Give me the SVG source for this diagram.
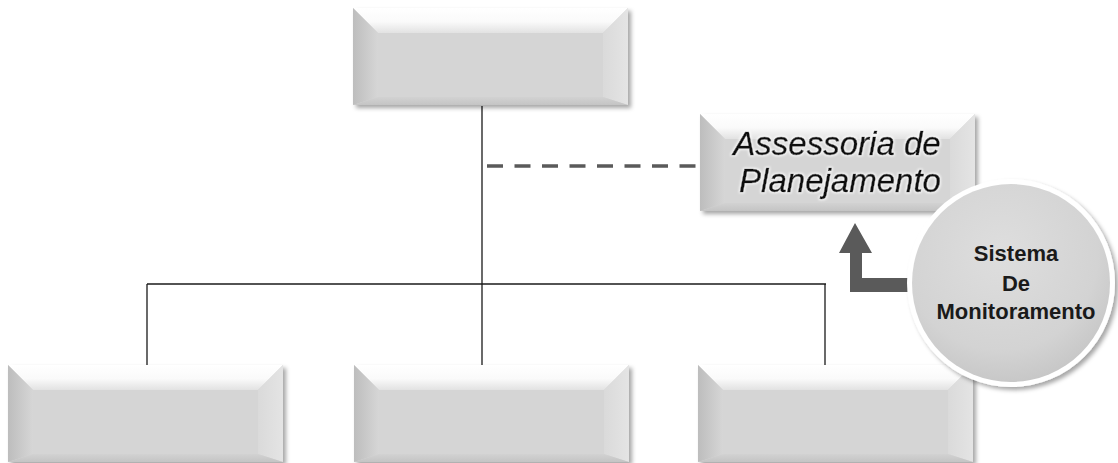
<svg xmlns="http://www.w3.org/2000/svg" xmlns:xlink="http://www.w3.org/1999/xlink" width="1118" height="463" viewBox="0 0 1118 463">
  <style>
    .line { stroke: #1a1a1a; stroke-width: 1.3; fill: none; }
    .dash { stroke: #5a5a5a; stroke-width: 3.5; stroke-dasharray: 16 11.5; fill: none; }
    .arrow { fill: #5a5a5a; }
    .title { font-family: "Liberation Sans", Arial, sans-serif; font-style: italic; font-size: 33px; fill: #0d0d0d; stroke: #0d0d0d; stroke-width: 0.5; text-anchor: middle; }
    .circ { font-family: "Liberation Sans", Arial, sans-serif; font-weight: bold; font-size: 22px; fill: #1a1a1a; text-anchor: middle; }
  </style>
  <defs>
    <filter id="shadow" x="-10%" y="-10%" width="125%" height="130%">
      <feDropShadow dx="3" dy="3" stdDeviation="2" flood-color="#000" flood-opacity="0.35"/>
    </filter>
    <filter id="glow" x="-10%" y="-20%" width="120%" height="140%">
      <feMorphology in="SourceAlpha" operator="dilate" radius="1.2" result="d"/>
      <feGaussianBlur in="d" stdDeviation="1" result="b"/>
      <feFlood flood-color="#ffffff" flood-opacity="0.8"/>
      <feComposite in2="b" operator="in" result="g"/>
      <feMerge><feMergeNode in="g"/><feMergeNode in="SourceGraphic"/></feMerge>
    </filter>
    <linearGradient id="gTop" x1="0" y1="0" x2="0" y2="1">
      <stop offset="0" stop-color="#ffffff"/>
      <stop offset="0.55" stop-color="#fafafa"/>
      <stop offset="1" stop-color="#e2e2e2"/>
    </linearGradient>
    <linearGradient id="gLeft" x1="0" y1="0" x2="1" y2="0">
      <stop offset="0" stop-color="#bdbdbd"/>
      <stop offset="1" stop-color="#d6d6d6"/>
    </linearGradient>
    <linearGradient id="gRight" x1="0" y1="0" x2="1" y2="0">
      <stop offset="0" stop-color="#dadada"/>
      <stop offset="1" stop-color="#e4e4e4"/>
    </linearGradient>
    <linearGradient id="gBottom" x1="0" y1="0" x2="0" y2="1">
      <stop offset="0" stop-color="#d2d2d2"/>
      <stop offset="1" stop-color="#c4c4c4"/>
    </linearGradient>
    <radialGradient id="gCirc" cx="0.45" cy="0.35" r="0.7">
      <stop offset="0" stop-color="#dedede"/>
      <stop offset="0.7" stop-color="#d3d3d3"/>
      <stop offset="1" stop-color="#c4c4c4"/>
    </radialGradient>
    <g id="box">
      <rect x="0" y="0" width="275" height="97" fill="#d5d5d5" filter="url(#shadow)"/>
      <polygon points="0,0 275,0 250,25 25,25" fill="url(#gTop)"/>
      <polygon points="0,0 25,25 25,89 0,97" fill="url(#gLeft)"/>
      <polygon points="275,0 275,97 250,89 250,25" fill="url(#gRight)"/>
      <polygon points="0,97 25,89 250,89 275,97" fill="url(#gBottom)"/>
      <rect x="25" y="25" width="225" height="64" fill="#d5d5d5"/>
    </g>
  </defs>

  <rect width="1118" height="463" fill="#ffffff"/>

  <g id="connectors">
    <line class="line" x1="482" y1="106" x2="482" y2="366"/>
    <line class="line" x1="147" y1="284" x2="826" y2="284"/>
    <line class="line" x1="147" y1="284" x2="147" y2="366"/>
    <line class="line" x1="825" y1="284" x2="825" y2="366"/>
    <line class="dash" x1="487" y1="166" x2="698" y2="166"/>
    <polygon class="arrow" points="855,223 872,253 862,253 862,278 912,278 912,292 850,292 850,253 839,253"/>
  </g>

  <g id="node-top">
    <use href="#box" x="353" y="8"/>
  </g>
  <g id="node-assessoria">
    <use href="#box" x="700" y="114"/>
    <text class="title" filter="url(#glow)" x="837" y="155">Assessoria de</text>
    <text class="title" filter="url(#glow)" x="840" y="192">Planejamento</text>
  </g>
  <g id="node-bottom-left">
    <use href="#box" x="8" y="365"/>
  </g>
  <g id="node-bottom-middle">
    <use href="#box" x="354" y="365"/>
  </g>
  <g id="node-bottom-right">
    <use href="#box" x="698" y="365"/>
  </g>
  <g id="node-sistema">
    <circle cx="1011" cy="283" r="104" fill="#ffffff" filter="url(#shadow)"/>
    <circle cx="1011" cy="283" r="99" fill="url(#gCirc)"/>
    <text class="circ" x="1016" y="261">Sistema</text>
    <text class="circ" x="1016" y="291">De</text>
    <text class="circ" x="1016" y="319">Monitoramento</text>
  </g>
</svg>
